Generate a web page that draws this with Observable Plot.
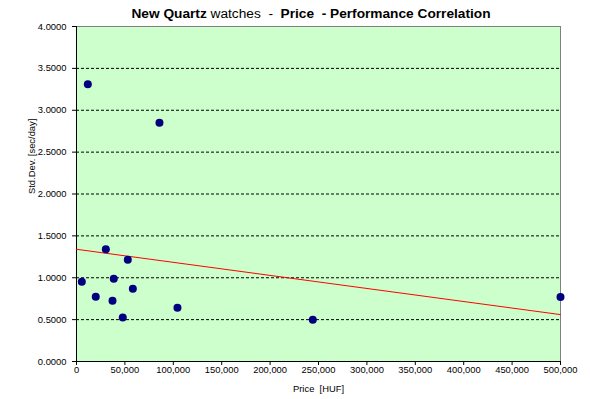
<!DOCTYPE html>
<html>
<head>
<meta charset="utf-8">
<script src="https://cdn.jsdelivr.net/npm/d3@7"></script>
<script src="https://cdn.jsdelivr.net/npm/@observablehq/plot@0.6"></script>
<style>
  body { margin: 0; background: #fff; font-family: "Liberation Sans", Arial, sans-serif; }
  #wrap { width: 590px; height: 399px; position: relative; }
  #title { height: 20px; line-height: 20px; font-size: 13.7px; text-align: center; padding-left: 32px; padding-top: 4px; box-sizing: border-box; color: #000; white-space: pre; }
  svg { display: block; }
</style>
</head>
<body>
<div id="wrap">
  <div id="title"><b>New Quartz</b> watches  -  <b>Price  - Performance Correlation</b></div>
  <div id="chart"></div>
</div>
<script>
// Watch prices (HUF) and standard deviation of rate (sec/day)
const price  = [11700, 85700, 30300, 53000, 5500, 38500, 58200, 19900, 37200, 47800, 104300, 244100, 500000];
const stdDev = [3.310, 2.852, 1.340, 1.214, 0.952, 0.988, 0.869, 0.774, 0.726, 0.524, 0.643, 0.500, 0.769];
// Linear trend line endpoints as drawn
const trendPrice = [0, 500000];
const trendStd   = [1.34, 0.56];
const yTicks = [0, 0.5, 1, 1.5, 2, 2.5, 3, 3.5, 4];
const xTicks = [0, 50000, 100000, 150000, 200000, 250000, 300000, 350000, 400000, 450000, 500000];
const gridY  = [0.5, 1, 1.5, 2, 2.5, 3, 3.5];

const points = price.map((p, i) => ({price: p, sd: stdDev[i]}));
const trend = trendPrice.map((p, i) => ({price: p, sd: trendStd[i]}));

const fmtX = d3.format(",");
const chart = Plot.plot({
  width: 590,
  height: 379,
  marginLeft: 76,
  marginRight: 30,
  marginTop: 6,
  marginBottom: 38,
  style: {fontFamily: "'Liberation Sans', Arial, sans-serif", fontSize: "9.4px", color: "#000", background: "#fff"},
  x: {domain: [0, 500000]},
  y: {domain: [0, 4]},
  marks: [
    Plot.frame({fill: "#ccffcc", stroke: "#808080"}),
    Plot.ruleY(gridY, {stroke: "#000", strokeDasharray: "3,2", strokeWidth: 1}),
    Plot.ruleX([0], {stroke: "#000", strokeWidth: 1}),
    Plot.ruleY([0], {stroke: "#000", strokeWidth: 1}),
    Plot.axisY({ticks: yTicks, tickFormat: d3.format(".4f"), tickSize: 4, tickPadding: 6, label: null, stroke: "#000", fontSize: 9.4}),
    Plot.axisX({ticks: xTicks, tickFormat: fmtX, tickSize: 4, tickPadding: 1, label: null, stroke: "#000", fontSize: 9.4}),
    Plot.text(["Std.Dev. [sec/day]"], {frameAnchor: "left", dx: -45, rotate: -90, fontSize: 9.4}),
    Plot.text(["Price  [HUF]"], {frameAnchor: "bottom", dy: 30, fontSize: 9.4}),
    Plot.line(trend, {x: "price", y: "sd", stroke: "#ff0000", strokeWidth: 1}),
    Plot.dot(points, {x: "price", y: "sd", r: 4, fill: "#000080", stroke: "none"})
  ]
});
document.getElementById("chart").appendChild(chart);
</script>
</body>
</html>
